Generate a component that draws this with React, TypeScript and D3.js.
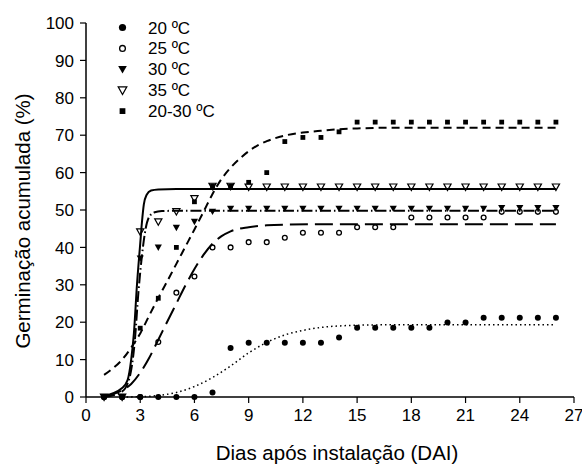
import React from 'react';
import * as d3 from 'd3';

// observed germination (%) per day after installation
const days = [1, 2, 3, 4, 5, 6, 7, 8, 9, 10, 11, 12, 13, 14, 15, 16, 17, 18, 19, 20, 21, 22, 23, 24, 25, 26];
const obs20 = [0, 0, 0, 0, 0, 0, 1.2, 13.1, 14.5, 14.5, 14.5, 14.5, 14.5, 15.9, 18.5, 18.5, 18.5, 18.5, 18.5, 19.9, 19.9, 21.2, 21.2, 21.2, 21.2, 21.2];
const obs25 = [0, 0, 0, 14.7, 27.9, 32.2, 40, 40, 41.4, 41.4, 42.6, 43.9, 43.9, 43.9, 45.4, 45.4, 45.4, 48, 48, 48, 48, 48, 49.5, 49.5, 49.5, 49.5];
const obs30 = [0, 0, 37.1, 40, 45.3, 46.9, 49.6, 50.4, 50.4, 50.4, 50.4, 50.4, 50.4, 50.4, 50.4, 50.4, 50.4, 50.4, 50.4, 50.4, 50.4, 50.4, 50.6, 50.6, 50.6, 50.6];
const obs35 = [0, 0, 44.2, 46.9, 49.6, 53.1, 56.4, 56.4, 56.2, 56.2, 56.2, 56.2, 56.2, 56.2, 56.2, 56.2, 56.2, 56.2, 56.2, 56.2, 56.2, 56.2, 56.2, 56.2, 56.2, 56.2];
const obs2030 = [0, 0, 18.4, 26.4, 40, 52.2, 56.4, 56.4, 57.4, 60, 68.3, 69.4, 69.4, 70.9, 73.5, 73.5, 73.5, 73.5, 73.5, 73.5, 73.5, 73.5, 73.5, 73.5, 73.5, 73.5];

// fitted curves as [day, %]
const fit20 = [[2, 0], [3, 0.1], [4, 0.4], [5, 1.2], [6, 2.8], [7, 5.2], [8, 8.3], [9, 11.8], [10, 14.6], [11, 16.6], [12, 17.8], [13, 18.6], [14, 19], [15, 19.2], [17, 19.3], [26, 19.3]];
const fit25 = [[1, 0], [2, 1.8], [2.5, 3.5], [3, 6.5], [3.5, 10.5], [4, 15.3], [4.5, 20.2], [5, 25], [5.5, 29.8], [6, 34.2], [6.5, 38], [7, 41], [7.5, 43], [8, 44.3], [9, 45.4], [10, 45.9], [11, 46.1], [13, 46.2], [26, 46.2]];
const fit30 = [[1, 0], [2, 1.5], [2.4, 5], [2.7, 15], [2.9, 28], [3.1, 38], [3.3, 45], [3.5, 48.2], [3.8, 49.4], [4.2, 49.7], [5, 49.8], [26, 49.8]];
const fit35 = [[1, 0.3], [2, 2.4], [2.3, 4.5], [2.5, 10], [2.65, 17], [2.82, 30], [3, 41], [3.1, 47], [3.2, 51.5], [3.35, 54], [3.6, 55.2], [4, 55.5], [5, 55.6], [26, 55.6]];
const fit2030 = [[1, 5.9], [1.5, 7.7], [2, 10], [2.5, 13.2], [3, 17], [3.5, 21.8], [4, 26.5], [4.5, 31], [5, 35.6], [5.5, 40.2], [6, 44.8], [6.5, 49.5], [7, 54.3], [7.5, 58.3], [8, 61.3], [8.5, 63.7], [9, 65.7], [9.5, 67.3], [10, 68.4], [11, 69.9], [12, 70.7], [13, 71.2], [14, 71.6], [15, 71.8], [17, 72], [26, 72]];

const xTicks = [0, 3, 6, 9, 12, 15, 18, 21, 24, 27];
const yTicks = [0, 10, 20, 30, 40, 50, 60, 70, 80, 90, 100];
const legendLabels = ['20 ºC', '25 ºC', '30 ºC', '35 ºC', '20-30 ºC'];

const series = [
  { label: legendLabels[0], obs: obs20, fit: fit20, marker: 'dot', dash: '1.5,3', sw: 1.5 },
  { label: legendLabels[1], obs: obs25, fit: fit25, marker: 'ring', dash: '18,7', sw: 2 },
  { label: legendLabels[2], obs: obs30, fit: fit30, marker: 'triFill', dash: '11,3,1.5,3', sw: 2 },
  { label: legendLabels[3], obs: obs35, fit: fit35, marker: 'triOpen', dash: null, sw: 2 },
  { label: legendLabels[4], obs: obs2030, fit: fit2030, marker: 'square', dash: '8,5', sw: 2 },
];

const font = '"Liberation Sans", Arial, sans-serif';

const Marker = ({ type, x, y, s = 1 }) => {
  if (type === 'dot') return <circle cx={x} cy={y} r={3 * s} fill="black" />;
  if (type === 'ring') return <circle cx={x} cy={y} r={2.4 * s} fill="none" stroke="black" strokeWidth={1.3} />;
  if (type === 'square') {
    const h = 2.4 * s;
    return <rect x={x - h} y={y - h} width={h * 2} height={h * 2} fill="black" />;
  }
  const w = 3.6 * s;
  const d = `M${x - w},${y - 2.8 * s}L${x + w},${y - 2.8 * s}L${x},${y + 3.6 * s}Z`;
  if (type === 'triFill') return <path d={d} fill="black" />;
  return <path d={d} fill="none" stroke="black" strokeWidth={1.2} />;
};

const App = () => {
  const width = 582;
  const height = 470;
  const x = d3.scaleLinear().domain([0, 27]).range([86, 574]);
  const y = d3.scaleLinear().domain([0, 100]).range([397, 23]);

  const line = d3.line()
    .x(d => x(d[0]))
    .y(d => y(d[1]))
    .curve(d3.curveMonotoneX);

  return (
    <svg width={width} height={height} style={{ position: 'absolute', left: 0, top: 0, background: 'white' }} fontFamily={font}>
      {/* axes */}
      <line x1={x(0)} x2={x(27)} y1={y(0)} y2={y(0)} stroke="black" strokeWidth={1.5} />
      <line x1={x(0)} x2={x(0)} y1={y(0)} y2={y(100)} stroke="black" strokeWidth={1.5} />
      {xTicks.map(t => (
        <g key={'x' + t}>
          <line x1={x(t)} x2={x(t)} y1={y(0)} y2={y(0) + 6} stroke="black" strokeWidth={1.2} />
          <text x={x(t)} y={421} fontSize={17} textAnchor="middle">{t}</text>
        </g>
      ))}
      {yTicks.map(t => (
        <g key={'y' + t}>
          <line x1={x(0) - 6} x2={x(0)} y1={y(t)} y2={y(t)} stroke="black" strokeWidth={1.2} />
          <text x={74} y={y(t)} dy="0.36em" fontSize={17} textAnchor="end">{t}</text>
        </g>
      ))}
      <text x={337} y={460} fontSize={20.5} textAnchor="middle">Dias após instalação (DAI)</text>
      <text transform="translate(30,221) rotate(-90)" fontSize={20.5} textAnchor="middle">Germinação acumulada (%)</text>

      {/* fitted curves */}
      {series.map(s => (
        <path key={'f' + s.label} d={line(s.fit)} fill="none" stroke="black"
          strokeWidth={s.sw} strokeDasharray={s.dash || undefined} />
      ))}

      {/* observed points */}
      {series.map(s => (
        <g key={'o' + s.label}>
          {s.obs.map((v, i) => (
            <Marker key={i} type={s.marker} x={x(days[i])} y={y(v)} />
          ))}
        </g>
      ))}

      {/* legend */}
      {series.map((s, i) => (
        <g key={'l' + s.label}>
          <Marker type={s.marker} x={122.5} y={27.5 + i * 20.9} s={1.2} />
          <text x={148} y={27.5 + i * 20.9 + 6} fontSize={17}>{s.label}</text>
        </g>
      ))}
    </svg>
  );
};

export default App;
